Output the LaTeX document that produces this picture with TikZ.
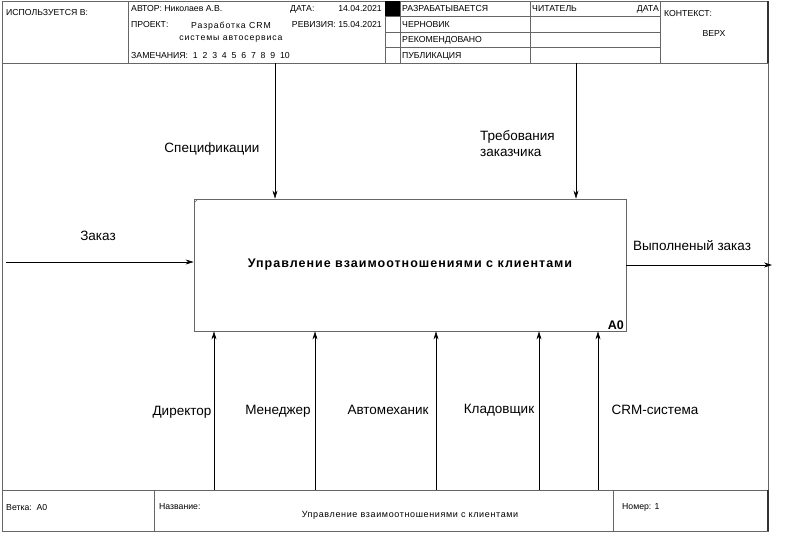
\documentclass[tikz,border=0pt]{standalone}
\usepackage{fontspec}
\setmainfont{Liberation Sans}
\usetikzlibrary{arrows.meta}
\begin{document}
\begin{tikzpicture}[x=1pt,y=-1pt,
  frame/.style={draw=black!60,line width=0.8pt},
  hdr/.style={anchor=west,inner sep=0pt,font=\fontsize{8.7}{10}\selectfont},
  lbl/.style={inner sep=0pt,font=\fontsize{13.5}{16}\selectfont},
  flow/.style={draw=black,line width=0.6pt,-{Stealth[length=8pt,width=5pt]}},
  func/.style={draw=black!60,line width=0.8pt,minimum width=432pt,minimum height=132pt,inner sep=0pt}]
\useasboundingbox (0,0) rectangle (799,532);
% outer frame
\draw[frame] (2,1) rectangle (768,531);
\draw[frame] (2,63) -- (768,63);
\draw[frame] (2,490) -- (768,490);
\draw[draw=black!80,line width=1.2pt] (768,1) -- (768,63);
\draw[draw=black!80,line width=1.2pt] (768,490) -- (768,531);
% header grid
\draw[frame] (128,1) -- (128,63);
\draw[frame] (385,1) -- (385,63);
\draw[frame] (400,1) -- (400,63);
\draw[frame] (530,1) -- (530,63);
\draw[frame] (660,1) -- (660,63);
\draw[frame] (385,16) -- (660,16);
\draw[frame] (385,32) -- (660,32);
\draw[frame] (385,47) -- (660,47);
\fill[black] (385,1) rectangle (400,16);
% header texts
\node[hdr] (used) at (6,13) {ИСПОЛЬЗУЕТСЯ В:};
\node[hdr] (author) at (131,9) {АВТОР: Николаев А.В.};
\node[hdr] (date) at (290,9) {ДАТА:};
\node[hdr,anchor=east] (dateval) at (382,9) {14.04.2021};
\node[hdr] (project) at (131,25) {ПРОЕКТ:};
\node[inner sep=0pt,font=\fontsize{8.7}{10}\selectfont\addfontfeature{LetterSpace=10.5}] (proj1) at (231,26) {Разработка CRM};
\node[inner sep=0pt,font=\fontsize{8.7}{10}\selectfont\addfontfeature{LetterSpace=10.5}] (proj2) at (231,39) {системы автосервиса};
\node[hdr,anchor=east] (rev) at (382,25) {РЕВИЗИЯ: 15.04.2021};
\node[hdr] (notes) at (131,56) {ЗАМЕЧАНИЯ:\ \ 1\ \ 2\ \ 3\ \ 4\ \ 5\ \ 6\ \ 7\ \ 8\ \ 9\ \ 10};
\node[hdr] (s1) at (402,9) {РАЗРАБАТЫВАЕТСЯ};
\node[hdr] (s2) at (402,25) {ЧЕРНОВИК};
\node[hdr] (s3) at (402,40) {РЕКОМЕНДОВАНО};
\node[hdr] (s4) at (402,56) {ПУБЛИКАЦИЯ};
\node[hdr] (reader) at (532,9) {ЧИТАТЕЛЬ};
\node[hdr,anchor=east] (rdate) at (659,9) {ДАТА};
\node[hdr] (ctx) at (664,14) {КОНТЕКСТ:};
\node[hdr,anchor=center] (top) at (714,34) {ВЕРХ};
% footer
\draw[frame] (154,490) -- (154,531);
\draw[frame] (613,490) -- (613,531);
\node[hdr] (branch) at (6,507) {Ветка:\ \ A0};
\node[hdr] (name) at (159,507) {Название:};
\node[inner sep=0pt,font=\fontsize{9}{10}\selectfont\addfontfeature{LetterSpace=7}] (fname) at (410,515) {Управление взаимоотношениями с клиентами};
\node[hdr] (num) at (622,507) {Номер: 1};
% function box
\node[func] (A0) at (410,265) {};
\draw[black!60,line width=0.6pt] (194,203) -- (198,199);
\node[inner sep=0pt,font=\bfseries\fontsize{12.5}{14}\selectfont\addfontfeature{LetterSpace=8}] (A0text) at (410,264) {Управление взаимоотношениями с клиентами};
\node[inner sep=0pt,anchor=south east,font=\bfseries\fontsize{12.5}{14}\selectfont] (A0num) at (624,330) {A0};
% input
\coordinate (inS) at (6,262);
\draw[flow] (inS) -- (A0.west |- inS);
\node[lbl] (inL) at (98,236) {Заказ};
% output
\coordinate (outE) at (772,265);
\draw[flow] (A0.east |- outE) -- (outE);
\node[lbl] (outL) at (692,246) {Выполненый заказ};
% controls
\coordinate (c1) at (275,63);
\coordinate (c2) at (576,63);
\draw[flow] (c1) -- (c1 |- A0.north);
\draw[flow] (c2) -- (c2 |- A0.north);
\node[lbl] (c1L) at (212,149) {Спецификации};
\node[lbl,align=left,anchor=west] (c2L) at (480,144) {Требования\\заказчика};
% mechanisms
\coordinate (m1) at (214,490);
\coordinate (m2) at (315,490);
\coordinate (m3) at (436,490);
\coordinate (m4) at (539,490);
\coordinate (m5) at (598,490);
\draw[flow] (m1) -- (m1 |- A0.south);
\draw[flow] (m2) -- (m2 |- A0.south);
\draw[flow] (m3) -- (m3 |- A0.south);
\draw[flow] (m4) -- (m4 |- A0.south);
\draw[flow] (m5) -- (m5 |- A0.south);
\node[lbl] (m1L) at (182,412) {Директор};
\node[lbl] (m2L) at (278,411) {Менеджер};
\node[lbl] (m3L) at (388,410) {Автомеханик};
\node[lbl] (m4L) at (499,410) {Кладовщик};
\node[lbl] (m5L) at (655,410) {CRM-система};
\end{tikzpicture}
\end{document}
